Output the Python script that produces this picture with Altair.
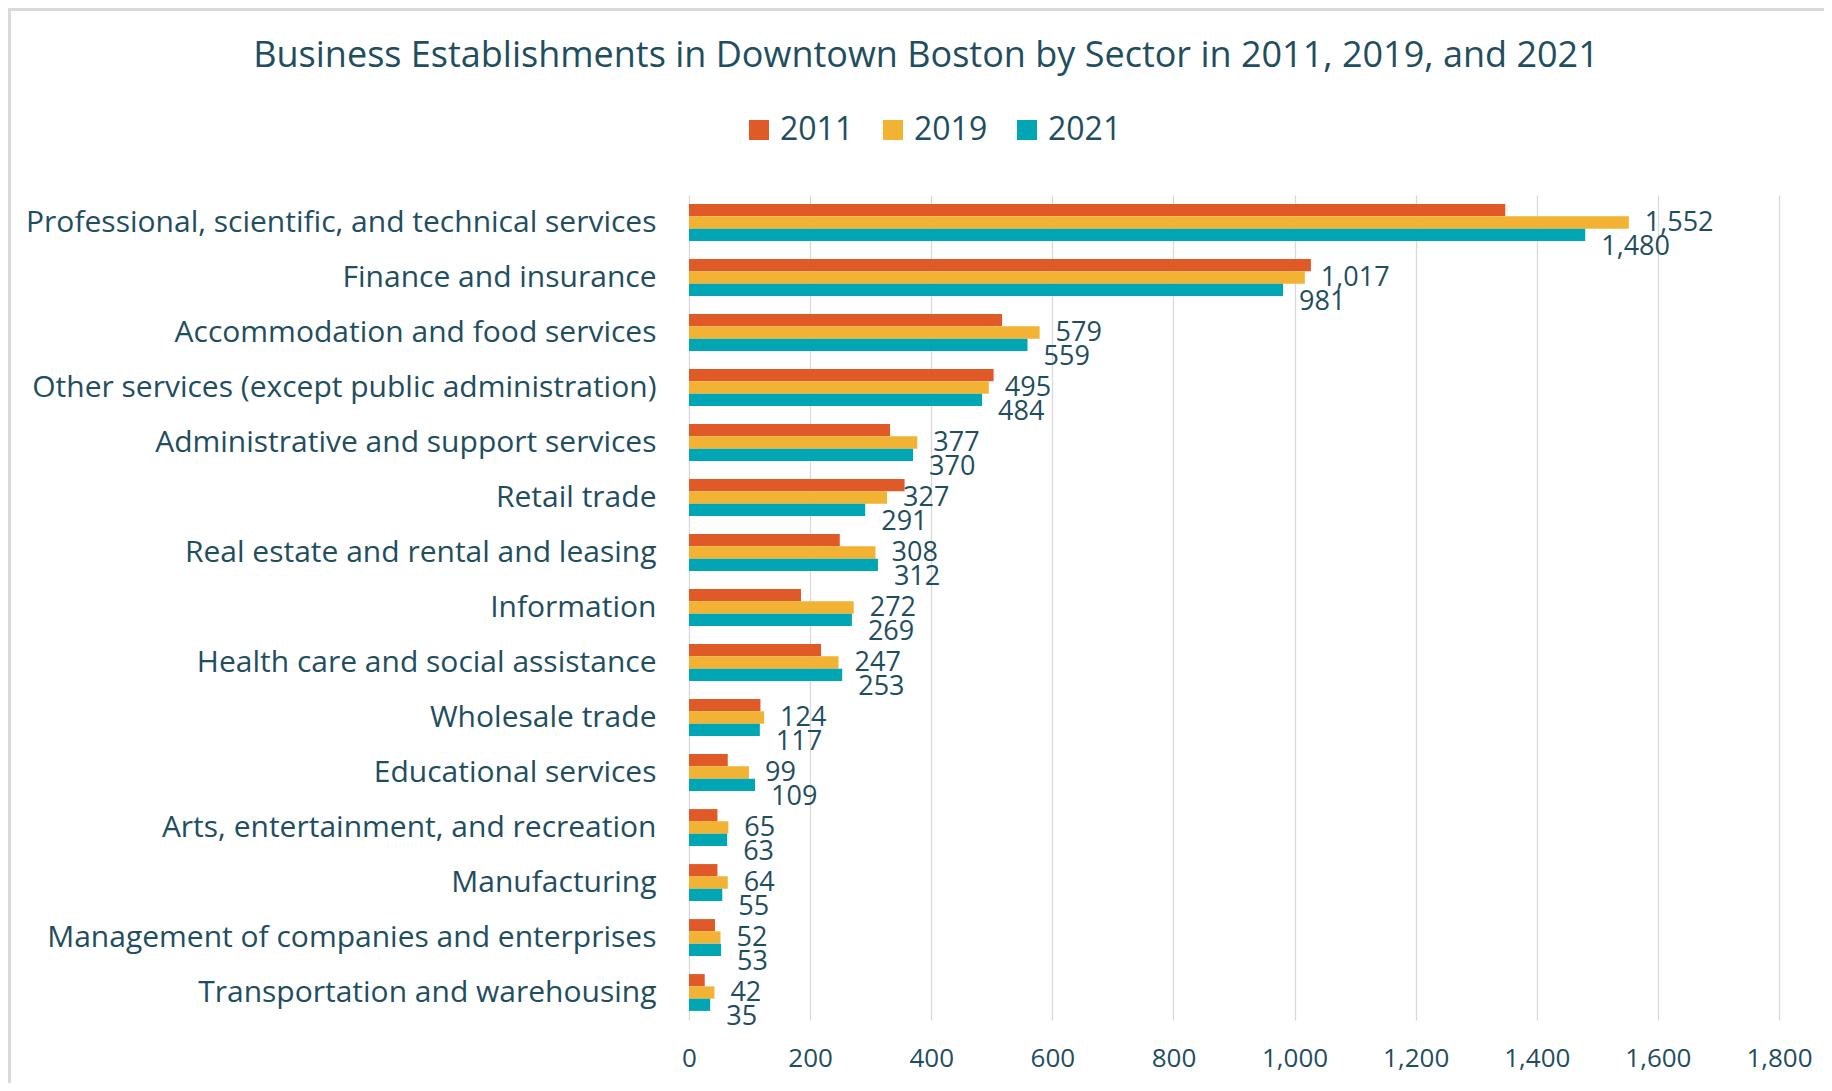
import altair as alt
import pandas as pd

sectors = [
    "Professional, scientific, and technical services",
    "Finance and insurance",
    "Accommodation and food services",
    "Other services (except public administration)",
    "Administrative and support services",
    "Retail trade",
    "Real estate and rental and leasing",
    "Information",
    "Health care and social assistance",
    "Wholesale trade",
    "Educational services",
    "Arts, entertainment, and recreation",
    "Manufacturing",
    "Management of companies and enterprises",
    "Transportation and warehousing",
]
years = ["2011", "2019", "2021"]
v2011 = [1348, 1027, 517, 503, 332, 356, 249, 185, 218, 118, 64, 47, 47, 43, 26]
v2019 = [1552, 1017, 579, 495, 377, 327, 308, 272, 247, 124, 99, 65, 64, 52, 42]
v2021 = [1480, 981, 559, 484, 370, 291, 312, 269, 253, 117, 109, 63, 55, 53, 35]
colors = ["#E05A28", "#F2B233", "#00A6B4"]
x_ticks = [0, 200, 400, 600, 800, 1000, 1200, 1400, 1600, 1800]

rows = []
for yr, vals in zip(years, [v2011, v2019, v2021]):
    for s, v in zip(sectors, vals):
        rows.append({"sector": s, "year": yr, "value": v})
df = pd.DataFrame(rows)

TEXT = "#1F4E5F"
FONT = "Open Sans"

y_enc = alt.Y(
    "sector:N",
    sort=sectors,
    scale=alt.Scale(paddingInner=0.33, paddingOuter=0.165),
    axis=alt.Axis(
        title=None, labelFontSize=30, labelColor=TEXT, labelFont=FONT,
        labelPadding=33, ticks=False, domain=False, labelLimit=900, grid=False,
    ),
)
yoff = alt.YOffset("year:N", sort=years, scale=alt.Scale(domain=years))
x_enc = alt.X(
    "value:Q",
    scale=alt.Scale(domain=[0, 1800], nice=False),
    axis=alt.Axis(
        title=None, values=x_ticks, format=",d", labelFontSize=26,
        labelColor=TEXT, labelFont=FONT, labelPadding=25, ticks=False,
        domain=False, grid=True, gridColor="#D9D9D9", gridWidth=1.3,
        labelOverlap=False, labelFlush=False,
    ),
)

bars = alt.Chart(df).mark_bar().encode(
    x=x_enc,
    y=y_enc,
    yOffset=yoff,
    color=alt.Color(
        "year:N",
        scale=alt.Scale(domain=years, range=colors),
        legend=alt.Legend(
            title=None, orient="none", legendX=54, legendY=-81,
            direction="horizontal", symbolType="square", symbolSize=400,
            symbolStrokeWidth=0, labelFontSize=32, labelFont=FONT,
            labelColor=TEXT, labelOffset=5, columnPadding=23,
        ),
    ),
)

def labels(year, dy):
    return (
        alt.Chart(df)
        .transform_filter(alt.datum.year == year)
        .mark_text(align="left", baseline="middle", dx=16, dy=dy,
                   fontSize=27, font=FONT, color=TEXT)
        .encode(
            x=x_enc,
            y=y_enc,
            yOffset=yoff,
            text=alt.Text("value:Q", format=",d"),
        )
    )

frame_df = pd.DataFrame({"f": [0]})
frame_top = alt.Chart(frame_df).mark_rule(color="#DADADA", strokeWidth=3).encode(
    x=alt.value(-681), x2=alt.value(1140), y=alt.value(-185.5)
)
frame_left = alt.Chart(frame_df).mark_rule(color="#DADADA", strokeWidth=3).encode(
    x=alt.value(-679.5), y=alt.value(-187), y2=alt.value(900)
)

chart = (
    alt.layer(frame_top, frame_left, bars, labels("2019", 0), labels("2021", 12))
    .properties(
        width=1090,
        height=825,
        autosize=alt.AutoSizeParams(type="none"),
        padding={"left": 681, "top": 187, "right": 45, "bottom": 63},
        title=alt.TitleParams(
            text="Business Establishments in Downtown Boston by Sector in 2011, 2019, and 2021",
            font=FONT, fontSize=36, fontWeight="normal", color=TEXT,
            anchor="middle", dx=-308, dy=72,
        ),
    )
    .configure_view(stroke=None)
)

chart.save("out.html", embed_options={"renderer": "svg", "actions": False})
